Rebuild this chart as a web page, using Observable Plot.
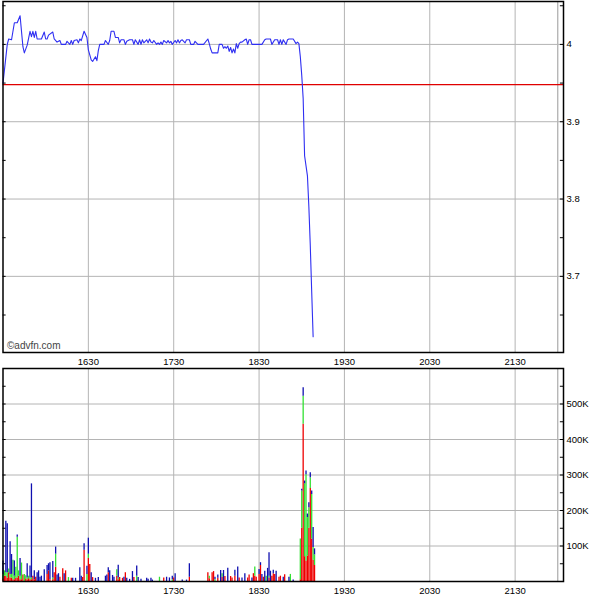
<!DOCTYPE html>
<html><head><meta charset="utf-8">
<script src="https://cdn.jsdelivr.net/npm/d3@7"></script>
<script src="https://cdn.jsdelivr.net/npm/@observablehq/plot@0.6"></script>
<style>
body{margin:0;background:#fff;}
#c{width:600px;height:604px;overflow:hidden;}
#c svg{display:block;}
</style>
</head><body><div id="c"></div>
<script>
// ---- data (minutes after 15:30 session start) ----
const sessionStart = "1530";
const sessionEndMin = 390;      // 22:00
const axisEndMin = 394;         // right edge of the panels
const timeTicks = ["1630","1730","1830","1930","2030","2130"];
const priceTicks = [3.7, 3.8, 3.9, 4];
const priceTickLabels = ["3.7", "3.8", "3.9", "4"];
const volTicks = [100000, 200000, 300000, 400000, 500000];
const volTickLabels = ["100K", "200K", "300K", "400K", "500K"];
const prevClose = 3.948;

const priceMin = [0,3,4,6,8,10,12,14,15,17,19,20,21,22,23,24,27,29,30,31,32,35,36,38,40,41,44,45,47,48,49,50,52,53,54,55,57,59,60,62,63,65,66,67,68,71,72,74,75,76,78,79,81,82,83,85,86,87,89,91,92,93,95,96,97,98,99,101,102,103,104,105,106,108,109,110,111,112,113,115,116,117,118,119,121,122,123,124,125,126,128,129,131,132,134,135,137,141,144,145,146,147,151,152,154,155,156,157,158,159,160,161,162,163,164,165,166,167,168,170,171,172,173,174,175,182,184,185,188,189,191,193,194,195,196,197,199,200,201,204,206,207,208,209,210,211,212,214,215,216,217,218];
const priceVal = [3.95,4.0,4.007,4.006,4.028,4.028,4.037,3.997,3.989,3.999,4.017,4.01,4.017,4.009,4.017,4.007,4.007,4.016,4.007,4.007,4.012,4.016,4.007,4.003,4.005,4.0,4.0,4.004,4.0,4.005,4.0,4.005,4.006,4.002,4.007,4.005,4.017,4.009,3.993,3.98,3.978,3.984,3.979,3.992,4.0,4.0,4.005,4.0,4.005,4.017,4.017,4.009,4.009,4.002,4.006,4.006,4.0,4.004,4.006,4.006,4.0,4.006,4.0,4.006,4.0,4.006,4.002,4.006,4.002,4.007,4.003,4.002,4.005,4.0,4.002,4.0,4.003,4.0,4.005,4.002,4.005,4.002,4.004,4.0,4.005,4.002,4.006,4.002,4.005,4.006,4.002,4.006,4.006,4.0,4.0,4.004,4.0,4.0,4.007,4.001,3.994,3.989,3.989,4.0,4.0,3.995,3.997,3.995,3.998,3.991,3.996,3.989,3.994,3.989,4.001,3.995,4.001,4.003,4.003,4.006,4.007,4.0,4.006,4.006,4.0,4.0,4.006,4.007,4.007,4.0,4.006,4.006,4.0,4.006,4.0,4.006,4.0,4.006,4.007,4.007,4.001,4.003,4.001,3.984,3.96,3.93,3.856,3.83,3.79,3.74,3.68,3.622];

const volMin   = [0,1,2,3,4,5,6,7,8,9,10,11,12,13,14,15,16,17,18,19,20,21,22,23,24,25,26,27,29,31,32,33,35,36,37,38,39,40,42,43,44,46,48,49,51,54,55,56,57,59,60,61,62,63,65,67,72,73,74,75,77,78,80,81,82,84,85,86,87,89,91,92,94,95,97,101,102,104,105,110,113,115,117,119,120,121,126,129,131,144,145,147,148,149,151,153,154,155,156,158,160,161,163,165,166,168,170,172,173,175,176,177,178,180,181,182,183,184,185,186,187,188,189,190,191,192,194,195,197,198,201,202,204,209,210,211,212,213,214,215,216,217,218,219];
const volRed   = [8,15,15,10,25,10,10,5,5,10,10,15,5,5,18,0,8,5,8,5,5,15,5,12,0,0,0,0,0,20,30,5,5,25,40,0,0,12,36,0,30,0,9,0,0,0,0,11,88,0,65,48,0,11,0,0,0,0,25,0,0,0,15,5,11,9,0,25,0,0,0,11,0,0,0,0,0,0,0,0,10,0,0,0,10,0,0,0,12,25,8,25,28,0,9,0,12,0,14,0,14,10,15,0,10,0,0,10,18,0,22,15,12,20,45,0,12,0,0,0,10,0,15,22,20,0,12,15,0,19,0,0,0,5,150,443,70,58,72,150,262,120,60,45];
const volGreen = [12,15,10,15,10,10,10,55,10,30,115,15,10,47,0,20,8,5,7,5,5,0,0,0,0,0,0,0,0,0,0,0,5,0,37,0,0,0,0,0,0,11,0,0,0,0,0,0,0,20,12,0,0,0,0,0,0,0,0,0,0,0,18,5,0,0,0,0,0,0,0,0,15,0,0,0,0,0,0,12,0,0,0,5,0,0,0,0,0,0,7,0,0,5,0,0,10,0,0,0,0,0,0,0,0,0,0,0,0,0,0,26,0,0,0,0,0,0,15,0,5,0,0,0,0,0,0,0,0,0,0,20,0,115,105,79,205,243,108,58,30,125,36,30];
const volBlue  = [38,0,145,138,0,92,56,0,43,0,6,0,50,0,0,0,0,40,0,34,265,0,25,0,25,30,12,15,33,25,20,48,46,0,20,18,22,0,0,22,0,0,0,9,9,39,15,0,18,23,45,0,25,0,9,11,15,18,14,30,17,12,0,36,0,0,12,0,9,6,28,0,29,11,6,9,6,9,4,0,0,12,10,10,0,22,4,4,38,0,0,0,0,7,9,31,0,31,0,37,0,0,17,41,0,10,22,0,0,10,0,0,0,14,8,20,0,29,0,37,66,29,0,10,0,29,0,0,12,0,12,0,4,0,5,24,8,10,10,14,14,10,56,17];

// ---- helpers ----
const base = d3.utcParse("%H%M")(sessionStart);
const at = m => new Date(+base + m * 60000);
const tickDates = timeTicks.map(d3.utcParse("%H%M"));
const priceData = priceMin.map((m, i) => ({t: at(m), p: priceVal[i]}));
const segs = [];
volMin.forEach((m, i) => {
  const r = volRed[i] * 1000, g = volGreen[i] * 1000, b = volBlue[i] * 1000;
  if (r) segs.push({t: at(m), y1: 0, y2: r, c: "r"});
  if (g) segs.push({t: at(m), y1: r, y2: r + g, c: "g"});
  if (b) segs.push({t: at(m), y1: r + g, y2: r + g + b, c: "b"});
});
const xDomain = [at(0), at(axisEndMin)];
const font = "'Liberation Sans', Arial, sans-serif";
const GRID = "#b4b4b4";

const priceMinor = d3.range(3.65, 4.06, 0.05).map(v => +v.toFixed(2));
const volMinor = d3.range(50000, 600000, 50000);

const topChart = Plot.plot({
  width: 600, height: 366,
  marginTop: 1, marginBottom: 14, marginLeft: 2.5, marginRight: 37,
  style: {fontFamily: font, fontSize: "9.5px", color: "#000", background: "#fff", overflow: "visible"},
  x: {type: "utc", domain: xDomain, ticks: tickDates, tickFormat: d3.utcFormat("%H%M"), tickSize: 0, tickPadding: 6, label: null},
  y: {domain: [3.6015, 4.0555], axis: "right", ticks: priceTicks, tickFormat: (d, i) => priceTickLabels[i], tickSize: 0, tickPadding: 3, label: null},
  marks: [
    Plot.ruleX(tickDates, {stroke: GRID, strokeWidth: 1}),
    Plot.ruleX([at(sessionEndMin)], {stroke: "#999", strokeWidth: 1}),
    Plot.ruleY(priceTicks, {stroke: GRID, strokeWidth: 1}),
    Plot.ruleY([prevClose], {stroke: "#e00000", strokeWidth: 1.2}),
    Plot.ruleY(priceMinor, {x1: at(0), x2: at(2.2), stroke: "#000"}),
    Plot.ruleY(priceMinor, {x1: at(axisEndMin - 2.2), x2: at(axisEndMin), stroke: "#000"}),
    Plot.line(priceData, {x: "t", y: "p", stroke: "#2f2ff2", strokeWidth: 1.1}),
    Plot.text(["©advfn.com"], {frameAnchor: "bottom-left", dx: 4, dy: -4, textAnchor: "start", fill: "#444", fontSize: 10}),
    Plot.frame({stroke: "#000", strokeWidth: 1.5})
  ]
});

const volChart = Plot.plot({
  width: 600, height: 238,
  marginTop: 2, marginBottom: 23, marginLeft: 2.5, marginRight: 37,
  style: {fontFamily: font, fontSize: "9.5px", color: "#000", background: "#fff", overflow: "visible"},
  x: {type: "utc", domain: xDomain, ticks: tickDates, tickFormat: d3.utcFormat("%H%M"), tickSize: 0, tickPadding: 6, label: null},
  y: {domain: [0, 600000], axis: "right", ticks: volTicks, tickFormat: (d, i) => volTickLabels[i], tickSize: 0, tickPadding: 3, label: null},
  marks: [
    Plot.ruleX(tickDates, {stroke: GRID, strokeWidth: 1}),
    Plot.ruleX([at(sessionEndMin)], {stroke: "#999", strokeWidth: 1}),
    Plot.ruleY(volTicks, {stroke: GRID, strokeWidth: 1}),
    Plot.ruleY(volMinor, {x1: at(0), x2: at(2.2), stroke: "#000"}),
    Plot.ruleY(volMinor, {x1: at(axisEndMin - 2.2), x2: at(axisEndMin), stroke: "#000"}),
    Plot.ruleX(segs.filter(d => d.c === "r"), {x: "t", y1: "y1", y2: "y2", stroke: "#ee0000", strokeWidth: 1.3}),
    Plot.ruleX(segs.filter(d => d.c === "g"), {x: "t", y1: "y1", y2: "y2", stroke: "#33e033", strokeWidth: 1.3}),
    Plot.ruleX(segs.filter(d => d.c === "b"), {x: "t", y1: "y1", y2: "y2", stroke: "#1010b0", strokeWidth: 1.3}),
    Plot.frame({stroke: "#000", strokeWidth: 1.5})
  ]
});

const c = document.getElementById("c");
c.appendChild(topChart);
c.appendChild(volChart);
</script>
</body></html>
